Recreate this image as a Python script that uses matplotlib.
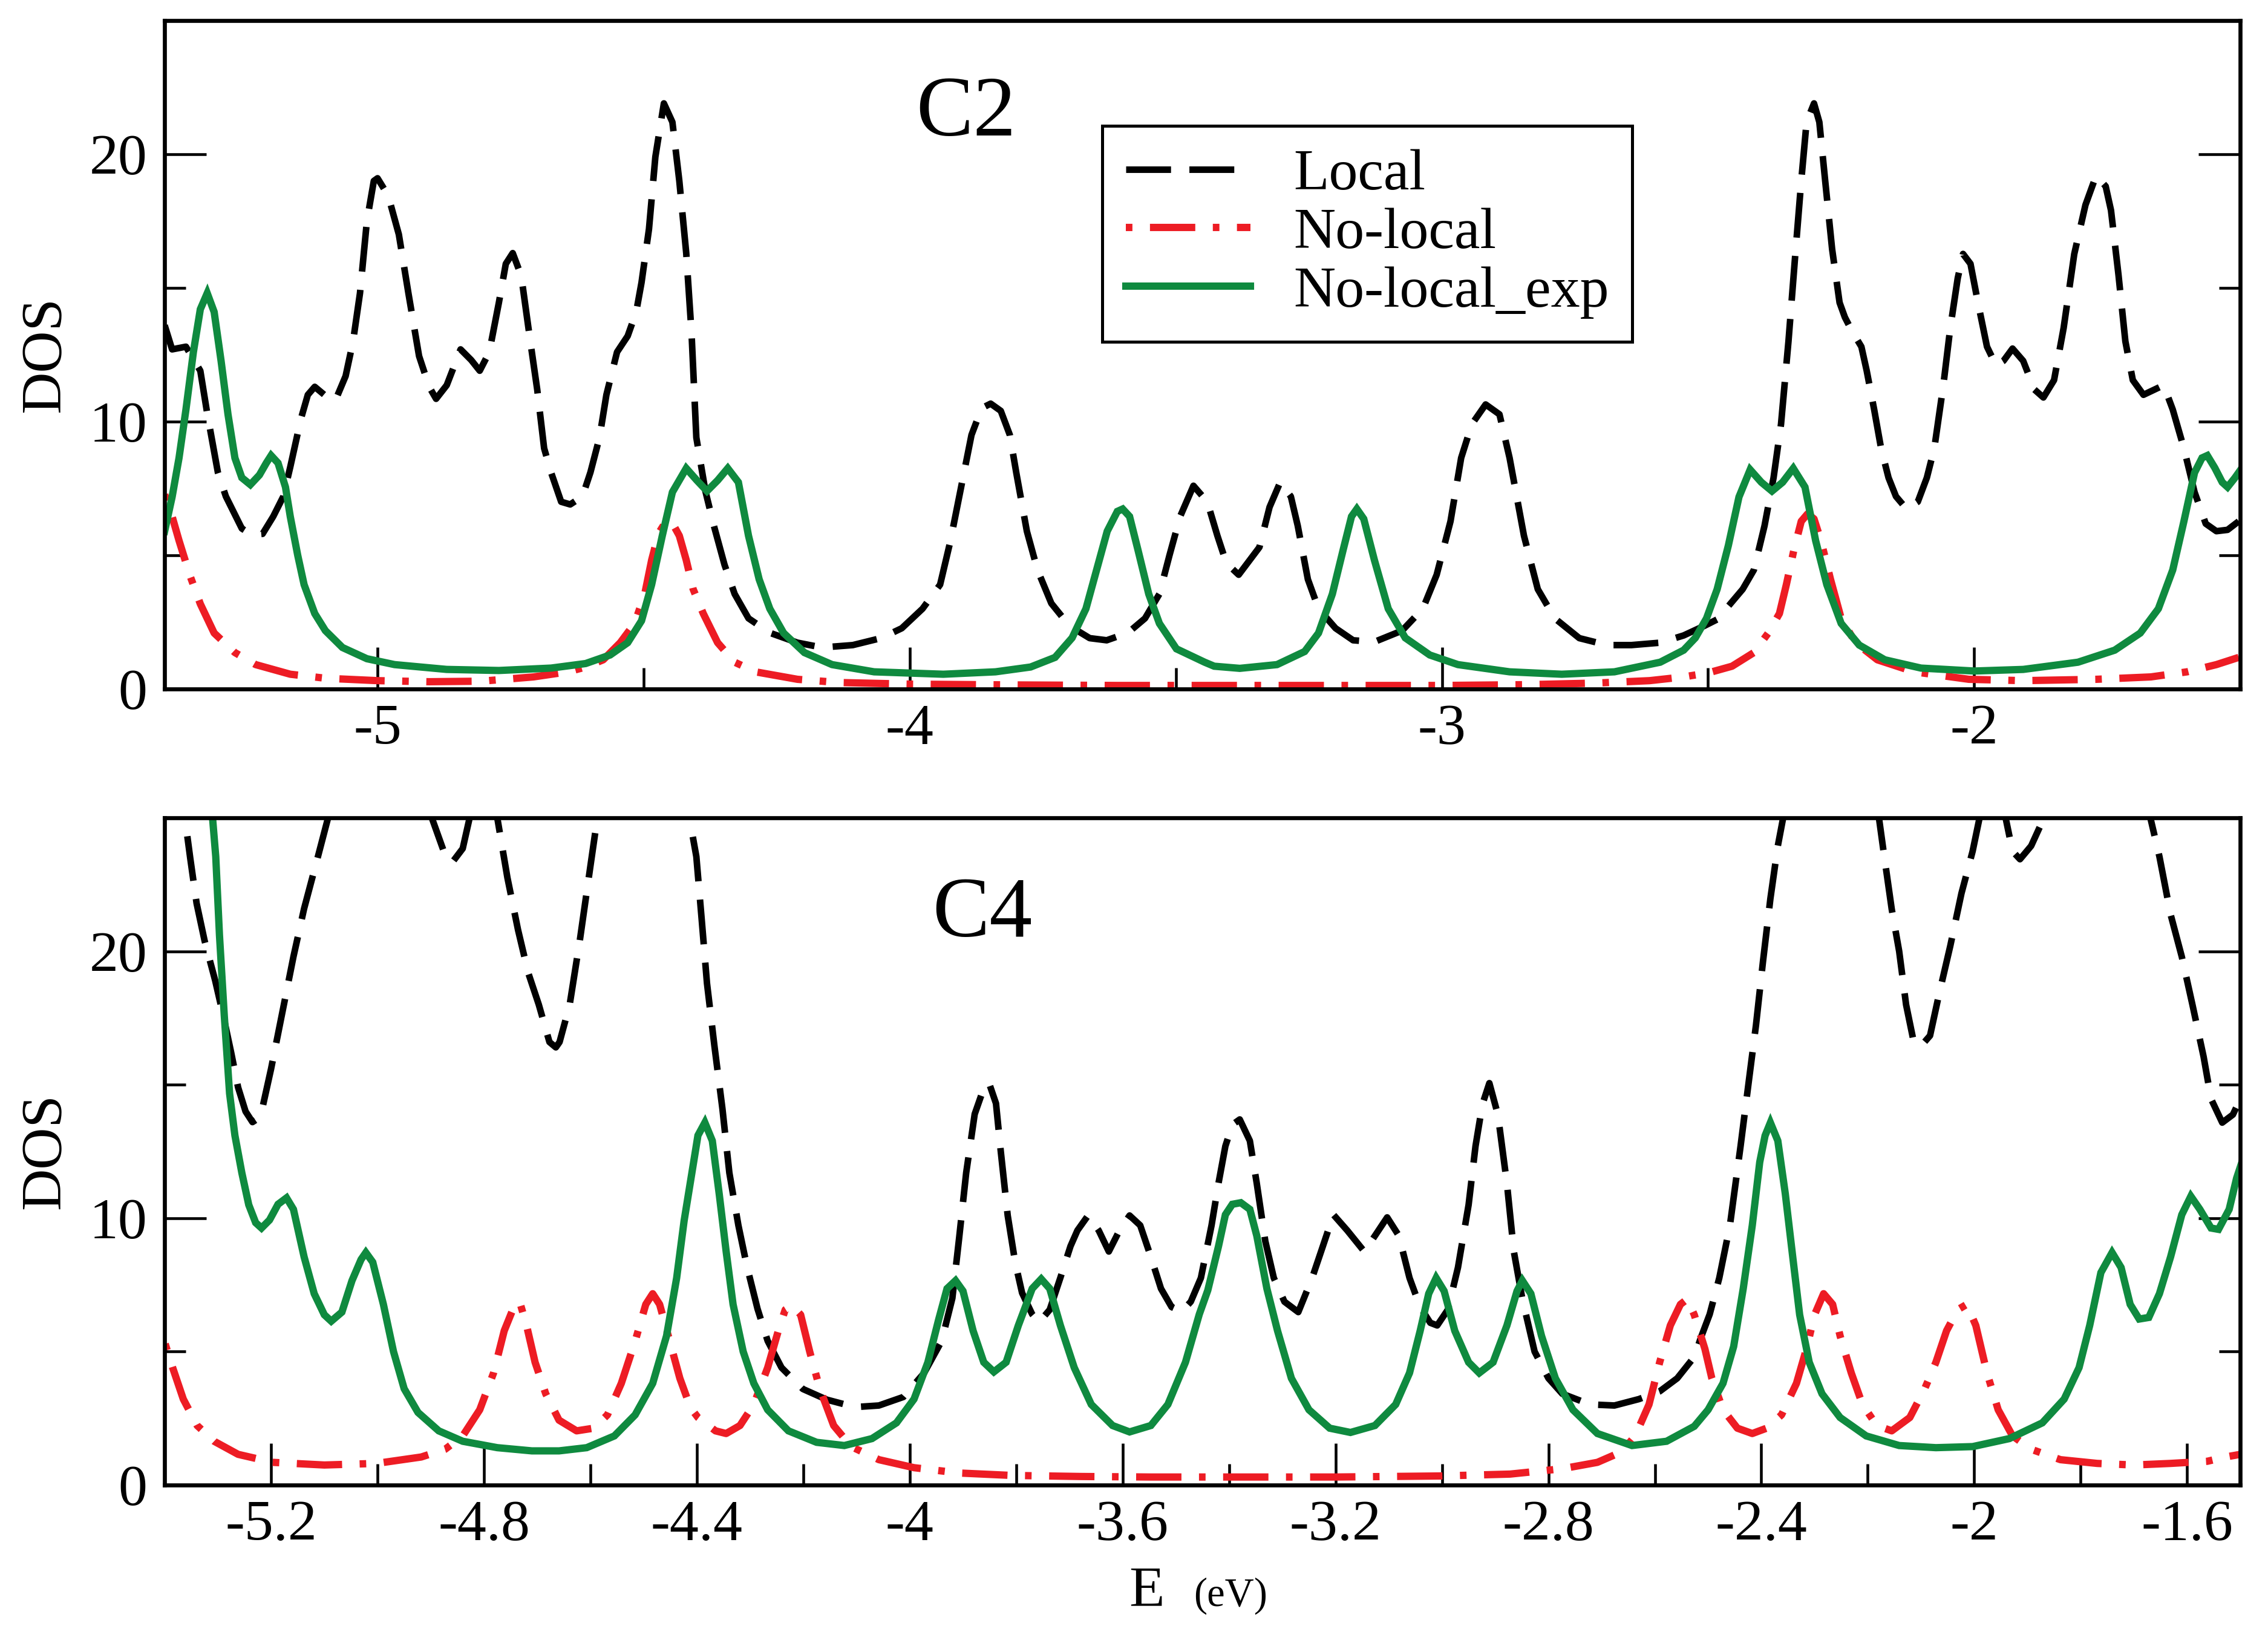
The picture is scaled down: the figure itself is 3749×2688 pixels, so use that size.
import numpy as np
import matplotlib.pyplot as plt
from matplotlib.ticker import MultipleLocator, FuncFormatter

plt.rcParams['font.family'] = ['Liberation Serif', 'DejaVu Serif']
plt.rcParams['axes.unicode_minus'] = False

# ---------------- C2 panel (top) ----------------
c2_local_x = [-5.400, -5.386, -5.360, -5.333, -5.320, -5.300, -5.285, -5.255, -5.236, -5.216,
              -5.196, -5.177, -5.164, -5.144, -5.131, -5.118, -5.100, -5.079, -5.060, -5.046,
              -5.033, -5.020, -5.007, -5.000, -4.980, -4.960, -4.942, -4.922, -4.903, -4.890,
              -4.870, -4.844, -4.824, -4.808, -4.790, -4.772, -4.759, -4.746, -4.730, -4.713,
              -4.700, -4.687, -4.674, -4.655, -4.638, -4.615, -4.600, -4.583, -4.570, -4.550,
              -4.530, -4.514, -4.504, -4.490, -4.478, -4.462, -4.446, -4.433, -4.420, -4.410,
              -4.401, -4.384, -4.368, -4.348, -4.329, -4.303, -4.263, -4.211, -4.165, -4.107,
              -4.054, -4.015, -3.976, -3.943, -3.924, -3.904, -3.884, -3.865, -3.848, -3.829,
              -3.812, -3.800, -3.780, -3.760, -3.734, -3.700, -3.662, -3.630, -3.590, -3.558,
              -3.531, -3.512, -3.492, -3.467, -3.441, -3.422, -3.405, -3.382, -3.343, -3.324,
              -3.304, -3.284, -3.271, -3.252, -3.232, -3.200, -3.167, -3.127, -3.075, -3.036,
              -3.010, -2.984, -2.964, -2.944, -2.918, -2.892, -2.873, -2.846, -2.820, -2.788,
              -2.742, -2.690, -2.644, -2.590, -2.546, -2.507, -2.483, -2.435, -2.414, -2.394,
              -2.377, -2.363, -2.349, -2.336, -2.325, -2.315, -2.301, -2.291, -2.280, -2.267,
              -2.253, -2.243, -2.229, -2.212, -2.202, -2.188, -2.175, -2.161, -2.147, -2.127,
              -2.106, -2.089, -2.075, -2.058, -2.045, -2.031, -2.021, -2.007, -1.993, -1.976,
              -1.959, -1.945, -1.928, -1.908, -1.887, -1.870, -1.850, -1.832, -1.812, -1.791,
              -1.771, -1.753, -1.743, -1.729, -1.716, -1.702, -1.682, -1.661, -1.644, -1.627,
              -1.606, -1.586, -1.565, -1.545, -1.524, -1.503]
c2_local_y = [13.6, 12.7, 12.8, 11.9, 10.3, 8.1, 7.2, 6.0, 5.76, 5.8,
              6.45, 7.2, 8.3, 10.1, 11.0, 11.3, 11.0, 10.8, 11.7, 13.0,
              14.8, 17.5, 19.0, 19.1, 18.45, 17.0, 14.8, 12.45, 11.3, 10.85,
              11.36, 12.7, 12.3, 11.9, 12.6, 14.45, 15.9, 16.3, 15.45, 13.0,
              11.2, 9.0, 8.1, 7.0, 6.9, 7.2, 8.1, 9.4, 11.0, 12.6,
              13.2, 14.1, 15.2, 17.2, 19.9, 21.9, 21.2, 19.0, 16.3, 13.3,
              9.4, 7.4, 6.1, 4.64, 3.55, 2.64, 2.1, 1.73, 1.55, 1.64,
              1.9, 2.27, 3.0, 3.9, 5.5, 7.5, 9.5, 10.5, 10.67, 10.4,
              9.5, 8.1, 5.9, 4.45, 3.2, 2.36, 1.9, 1.82, 2.1, 2.64,
              3.55, 5.0, 6.45, 7.6, 7.0, 5.73, 4.7, 4.27, 5.3, 6.8,
              7.73, 7.2, 6.1, 4.1, 3.0, 2.27, 1.82, 1.76, 2.18, 3.0,
              4.27, 6.27, 8.64, 9.9, 10.64, 10.27, 8.64, 5.73, 3.73, 2.64,
              1.9, 1.64, 1.64, 1.73, 2.0, 2.36, 2.6, 3.73, 4.45, 6.1,
              7.9, 9.9, 13.0, 16.3, 19.0, 21.2, 21.9, 21.2, 19.0, 16.45,
              14.45, 13.9, 13.36, 12.8, 11.9, 10.45, 9.0, 7.9, 7.2, 6.73,
              7.0, 7.9, 9.0, 11.36, 13.5, 15.36, 16.27, 15.9, 14.45, 12.8,
              12.1, 12.27, 12.73, 12.27, 11.2, 10.9, 11.55, 13.5, 16.27, 18.1,
              19.2, 18.8, 17.9, 15.5, 13.0, 11.55, 11.0, 11.2, 11.36, 10.45,
              9.0, 7.36, 6.18, 5.9, 5.95, 6.27]

c2_nonlocal_x = [-5.400, -5.386, -5.373, -5.353, -5.333, -5.307, -5.268, -5.229, -5.164, -5.098,
                 -5.000, -4.903, -4.805, -4.707, -4.642, -4.609, -4.576, -4.544, -4.517, -4.498,
                 -4.485, -4.472, -4.457, -4.446, -4.433, -4.420, -4.407, -4.388, -4.361, -4.329,
                 -4.290, -4.211, -4.133, -4.000, -3.806, -3.610, -3.400, -3.232, -3.000, -2.840,
                 -2.710, -2.610, -2.546, -2.500, -2.455, -2.414, -2.387, -2.366, -2.353, -2.339,
                 -2.325, -2.313, -2.301, -2.288, -2.270, -2.250, -2.223, -2.182, -2.113, -2.010,
                 -1.908, -1.771, -1.668, -1.600, -1.545, -1.503]
c2_nonlocal_y = [7.27, 6.45, 5.55, 4.27, 3.18, 2.09, 1.36, 0.91, 0.55, 0.4,
                 0.31, 0.27, 0.29, 0.45, 0.64, 0.82, 1.09, 1.73, 2.45, 3.55,
                 4.82, 5.82, 6.3, 6.2, 5.73, 4.82, 3.73, 2.82, 1.73, 1.0,
                 0.64, 0.36, 0.24, 0.18, 0.15, 0.13, 0.13, 0.13, 0.13, 0.16,
                 0.22, 0.31, 0.45, 0.6, 0.85, 1.36, 2.09, 2.82, 3.9, 5.18,
                 6.27, 6.55, 6.36, 5.55, 4.1, 2.64, 1.73, 1.09, 0.64, 0.36,
                 0.31, 0.36, 0.45, 0.64, 0.91, 1.18]

c2_exp_x = [-5.400, -5.386, -5.373, -5.360, -5.346, -5.333, -5.320, -5.307, -5.294, -5.281,
            -5.268, -5.255, -5.239, -5.222, -5.209, -5.200, -5.187, -5.173, -5.164, -5.150,
            -5.138, -5.118, -5.098, -5.066, -5.020, -4.968, -4.870, -4.772, -4.674, -4.609,
            -4.563, -4.530, -4.504, -4.485, -4.465, -4.446, -4.420, -4.400, -4.381, -4.361,
            -4.342, -4.322, -4.303, -4.283, -4.263, -4.237, -4.198, -4.146, -4.067, -3.937,
            -3.839, -3.773, -3.727, -3.695, -3.669, -3.649, -3.629, -3.610, -3.600, -3.587,
            -3.571, -3.551, -3.531, -3.499, -3.446, -3.428, -3.380, -3.310, -3.258, -3.232,
            -3.206, -3.186, -3.170, -3.160, -3.147, -3.127, -3.101, -3.069, -3.023, -2.970,
            -2.873, -2.775, -2.676, -2.590, -2.546, -2.524, -2.503, -2.483, -2.462, -2.442,
            -2.421, -2.400, -2.380, -2.360, -2.340, -2.318, -2.298, -2.277, -2.250, -2.216,
            -2.168, -2.100, -2.000, -1.908, -1.805, -1.736, -1.688, -1.654, -1.627, -1.606,
            -1.586, -1.572, -1.562, -1.548, -1.534, -1.524, -1.510, -1.500]
c2_exp_y = [5.9, 7.18, 8.64, 10.45, 12.6, 14.2, 14.8, 14.1, 12.27, 10.27,
            8.64, 7.9, 7.64, 8.0, 8.45, 8.73, 8.45, 7.55, 6.45, 5.0,
            3.9, 2.82, 2.18, 1.55, 1.13, 0.91, 0.73, 0.69, 0.78, 0.95,
            1.27, 1.73, 2.55, 3.9, 5.73, 7.36, 8.25, 7.8, 7.4, 7.8,
            8.25, 7.73, 5.73, 4.1, 3.0, 2.09, 1.36, 0.91, 0.64, 0.55,
            0.64, 0.82, 1.18, 1.91, 3.0, 4.45, 5.9, 6.64, 6.73, 6.45,
            5.18, 3.55, 2.45, 1.5, 1.0, 0.85, 0.77, 0.91, 1.4, 2.09,
            3.55, 5.18, 6.45, 6.73, 6.36, 4.82, 3.0, 1.91, 1.27, 0.91,
            0.64, 0.55, 0.64, 1.0, 1.45, 1.91, 2.64, 3.73, 5.36, 7.18,
            8.2, 7.73, 7.4, 7.73, 8.25, 7.55, 5.55, 3.9, 2.45, 1.64,
            1.09, 0.78, 0.67, 0.73, 1.0, 1.45, 2.09, 3.0, 4.45, 6.27,
            8.09, 8.64, 8.73, 8.27, 7.73, 7.55, 7.9, 8.18]

# ---------------- C4 panel (bottom) ----------------
# values above 25 are rough guesses, they fall outside the frame
c4_local_x = [-5.392, -5.362, -5.352, -5.340, -5.325, -5.305, -5.290, -5.275, -5.262, -5.248,
              -5.235, -5.220, -5.200, -5.180, -5.158, -5.138, -5.112, -5.093, -5.000, -4.898,
              -4.872, -4.859, -4.840, -4.827, -4.800, -4.775, -4.756, -4.736, -4.717, -4.697,
              -4.677, -4.665, -4.658, -4.639, -4.620, -4.600, -4.587, -4.500, -4.414, -4.401,
              -4.391, -4.381, -4.367, -4.352, -4.339, -4.322, -4.306, -4.286, -4.267, -4.241,
              -4.201, -4.156, -4.103, -4.058, -4.012, -3.973, -3.940, -3.920, -3.907, -3.894,
              -3.878, -3.861, -3.851, -3.838, -3.829, -3.816, -3.802, -3.789, -3.770, -3.757,
              -3.737, -3.717, -3.698, -3.685, -3.665, -3.645, -3.626, -3.606, -3.587, -3.567,
              -3.547, -3.528, -3.508, -3.489, -3.472, -3.453, -3.433, -3.420, -3.407, -3.394,
              -3.380, -3.361, -3.348, -3.332, -3.316, -3.296, -3.270, -3.244, -3.224, -3.204,
              -3.178, -3.146, -3.126, -3.103, -3.081, -3.061, -3.041, -3.022, -3.009, -2.989,
              -2.970, -2.950, -2.937, -2.924, -2.911, -2.895, -2.878, -2.865, -2.849, -2.826,
              -2.800, -2.774, -2.722, -2.676, -2.630, -2.591, -2.558, -2.526, -2.514, -2.497,
              -2.479, -2.459, -2.439, -2.424, -2.410, -2.397, -2.383, -2.369, -2.359, -2.270,
              -2.179, -2.169, -2.155, -2.141, -2.128, -2.114, -2.100, -2.083, -2.066, -2.045,
              -2.024, -2.003, -1.990, -1.960, -1.941, -1.928, -1.914, -1.893, -1.869, -1.760,
              -1.669, -1.652, -1.631, -1.610, -1.590, -1.569, -1.555, -1.534, -1.514, -1.500]
c4_local_y = [29.0, 25.0, 23.5, 21.8, 20.4, 18.9, 17.6, 16.2, 14.9, 14.0,
              13.6, 13.8, 15.6, 17.6, 19.8, 21.6, 23.55, 25.0, 30.0, 25.0,
              23.55, 23.35, 23.85, 25.0, 27.0, 25.0, 22.76, 20.8, 19.2, 18.0,
              16.6, 16.4, 16.6, 18.0, 20.4, 23.2, 25.0, 40.0, 25.0, 23.55,
              21.2, 18.8, 16.45, 14.1, 11.7, 9.73, 8.2, 6.6, 5.4, 4.4,
              3.6, 3.2, 2.92, 2.98, 3.3, 4.2, 5.4, 7.0, 9.3, 11.7,
              13.9, 14.87, 15.06, 14.3, 12.5, 10.1, 8.35, 7.2, 6.4, 6.1,
              6.57, 7.77, 8.95, 9.54, 10.1, 9.54, 8.75, 9.54, 10.1, 9.73,
              8.55, 7.36, 6.67, 6.5, 6.87, 7.76, 9.73, 11.3, 12.7, 13.5,
              13.7, 12.9, 11.3, 9.14, 7.76, 6.87, 6.48, 7.76, 8.94, 10.13,
              9.54, 8.75, 9.34, 10.03, 9.34, 7.76, 6.67, 6.08, 5.98, 6.57,
              8.15, 10.5, 12.7, 14.27, 15.06, 13.88, 11.3, 8.75, 6.97, 5.0,
              4.0, 3.42, 3.02, 2.98, 3.22, 3.51, 4.0, 4.8, 5.5, 6.4,
              7.76, 9.73, 12.7, 15.06, 17.24, 19.6, 21.97, 23.95, 25.0, 40.0,
              25.0, 23.55, 21.58, 20.0, 18.0, 16.64, 16.45, 16.84, 18.4, 20.2,
              22.17, 23.75, 25.0, 27.0, 25.0, 23.75, 23.45, 23.95, 25.0, 30.0,
              25.0, 23.55, 21.38, 19.8, 18.0, 16.05, 14.47, 13.58, 13.88, 14.47]

c4_nonlocal_x = [-5.399, -5.385, -5.365, -5.339, -5.307, -5.262, -5.197, -5.100, -5.002, -4.918,
                 -4.873, -4.840, -4.808, -4.782, -4.762, -4.746, -4.733, -4.720, -4.704, -4.684,
                 -4.659, -4.626, -4.594, -4.568, -4.542, -4.516, -4.496, -4.483, -4.470, -4.451,
                 -4.432, -4.412, -4.398, -4.365, -4.345, -4.319, -4.293, -4.267, -4.247, -4.234,
                 -4.221, -4.205, -4.188, -4.169, -4.143, -4.110, -4.058, -3.992, -3.907, -3.809,
                 -3.678, -3.547, -3.380, -3.200, -3.002, -2.872, -2.774, -2.708, -2.663, -2.637,
                 -2.611, -2.591, -2.571, -2.552, -2.539, -2.526, -2.506, -2.493, -2.472, -2.445,
                 -2.417, -2.390, -2.362, -2.334, -2.314, -2.300, -2.283, -2.266, -2.252, -2.231,
                 -2.210, -2.183, -2.155, -2.121, -2.093, -2.072, -2.052, -2.031, -2.014, -1.997,
                 -1.976, -1.955, -1.928, -1.893, -1.838, -1.769, -1.700, -1.631, -1.562, -1.528,
                 -1.500]
c4_nonlocal_y = [5.29, 4.4, 3.22, 2.23, 1.64, 1.15, 0.85, 0.75, 0.81, 1.05,
                 1.34, 1.84, 2.82, 4.2, 5.78, 6.57, 6.87, 5.98, 4.6, 3.42,
                 2.43, 2.03, 2.13, 2.63, 3.81, 5.39, 6.77, 7.17, 6.77, 5.39,
                 4.0, 2.9, 2.53, 2.03, 1.93, 2.23, 3.02, 4.4, 5.78, 6.57,
                 6.73, 6.38, 5.0, 3.61, 2.23, 1.44, 0.95, 0.65, 0.45, 0.36,
                 0.32, 0.3, 0.3, 0.3, 0.34, 0.41, 0.61, 0.85, 1.24, 1.84,
                 3.02, 4.6, 5.98, 6.77, 6.97, 6.38, 5.1, 4.0, 2.82, 2.13,
                 1.93, 2.13, 2.63, 3.81, 5.19, 6.38, 7.17, 6.77, 5.59, 4.2,
                 3.02, 2.23, 2.03, 2.53, 3.61, 4.6, 5.78, 6.57, 6.77, 5.98,
                 4.2, 2.82, 1.84, 1.34, 0.95, 0.81, 0.75, 0.81, 0.89, 1.05,
                 1.15]

c4_exp_x = [-5.340, -5.310, -5.304, -5.297, -5.288, -5.278, -5.268, -5.255, -5.242, -5.229,
            -5.218, -5.203, -5.187, -5.171, -5.158, -5.138, -5.119, -5.100, -5.087, -5.067,
            -5.048, -5.031, -5.022, -5.009, -4.989, -4.970, -4.950, -4.924, -4.885, -4.840,
            -4.775, -4.710, -4.659, -4.607, -4.555, -4.516, -4.483, -4.457, -4.438, -4.424,
            -4.411, -4.398, -4.385, -4.371, -4.358, -4.345, -4.332, -4.313, -4.293, -4.267,
            -4.228, -4.175, -4.123, -4.071, -4.025, -3.992, -3.966, -3.946, -3.930, -3.914,
            -3.900, -3.881, -3.861, -3.842, -3.819, -3.796, -3.770, -3.753, -3.737, -3.717,
            -3.691, -3.659, -3.619, -3.587, -3.547, -3.515, -3.482, -3.456, -3.440, -3.420,
            -3.407, -3.394, -3.378, -3.361, -3.348, -3.329, -3.309, -3.283, -3.250, -3.211,
            -3.172, -3.126, -3.087, -3.061, -3.041, -3.025, -3.011, -2.996, -2.976, -2.950,
            -2.930, -2.904, -2.878, -2.859, -2.849, -2.833, -2.813, -2.787, -2.754, -2.708,
            -2.643, -2.578, -2.526, -2.500, -2.472, -2.452, -2.434, -2.417, -2.403, -2.393,
            -2.383, -2.369, -2.355, -2.341, -2.328, -2.310, -2.286, -2.252, -2.203, -2.141,
            -2.072, -2.003, -1.934, -1.872, -1.831, -1.803, -1.783, -1.762, -1.741, -1.724,
            -1.707, -1.690, -1.672, -1.652, -1.631, -1.610, -1.593, -1.576, -1.555, -1.541,
            -1.521, -1.507, -1.497]
c4_exp_y = [31.0, 25.0, 23.55, 20.6, 17.6, 14.67, 13.1, 11.7, 10.5, 9.83,
            9.63, 9.93, 10.52, 10.76, 10.33, 8.55, 7.17, 6.38, 6.14, 6.48,
            7.66, 8.45, 8.71, 8.35, 6.77, 5.0, 3.61, 2.72, 2.03, 1.64,
            1.4, 1.28, 1.28, 1.4, 1.84, 2.63, 3.81, 5.59, 7.76, 9.9,
            11.5, 13.1, 13.58, 12.9, 10.9, 8.75, 6.77, 5.0, 3.81, 2.82,
            2.03, 1.6, 1.48, 1.74, 2.33, 3.22, 4.6, 6.18, 7.36, 7.66,
            7.27, 5.78, 4.6, 4.24, 4.6, 5.98, 7.36, 7.72, 7.36, 5.98,
            4.4, 3.02, 2.23, 1.99, 2.23, 3.02, 4.6, 6.4, 7.3, 8.94,
            10.13, 10.52, 10.58, 10.33, 9.34, 7.36, 5.78, 4.0, 2.82, 2.13,
            1.97, 2.23, 3.02, 4.2, 5.78, 7.17, 7.76, 7.27, 5.78, 4.6,
            4.2, 4.6, 5.98, 7.27, 7.66, 7.17, 5.59, 4.0, 2.82, 1.93,
            1.48, 1.64, 2.2, 2.82, 3.81, 5.19, 7.36, 9.73, 12.1, 13.09,
            13.58, 12.9, 10.92, 8.55, 6.38, 4.6, 3.42, 2.53, 1.84, 1.48,
            1.4, 1.44, 1.74, 2.33, 3.22, 4.4, 5.98, 7.96, 8.71, 8.15,
            6.77, 6.22, 6.28, 7.17, 8.55, 10.13, 10.82, 10.33, 9.63, 9.58,
            10.33, 11.5, 12.1]

labels = ['Local', 'No-local', 'No-local_exp']
colors = ['black', '#ed1c24', '#0f8a3f']
styles = [(0, (6.85, 2.8)), (8.6, (6.2, 2.4, 0.9, 2.4)), '-']
widths = [2.6, 2.9, 2.9]

fig = plt.figure(figsize=(3749 / 300, 2688 / 300), dpi=300)
ax1 = fig.add_axes([0.0726, 0.5763, 0.9152, 0.4111])
ax2 = fig.add_axes([0.0726, 0.0867, 0.9152, 0.4103])

panels = [
    (ax1, [(c2_local_x, c2_local_y), (c2_nonlocal_x, c2_nonlocal_y), (c2_exp_x, c2_exp_y)]),
    (ax2, [(c4_local_x, c4_local_y), (c4_nonlocal_x, c4_nonlocal_y), (c4_exp_x, c4_exp_y)]),
]

fmt = FuncFormatter(lambda v, p: '%g' % round(v, 3))

for ax, curves in panels:
    for (x, y), lab, c, ls, lw in zip(curves, labels, colors, styles, widths):
        ax.plot(x, y, color=c, linestyle=ls, linewidth=lw, label=lab,
                dash_capstyle='butt', solid_joinstyle='miter')
    ax.set_xlim(-5.4, -1.5)
    ax.set_ylim(0, 25)
    ax.yaxis.set_major_locator(MultipleLocator(10))
    ax.yaxis.set_minor_locator(MultipleLocator(5))
    ax.xaxis.set_major_formatter(fmt)
    ax.yaxis.set_major_formatter(fmt)
    ax.tick_params(which='both', direction='in', top=False, right=True, width=1.1,
                   labelsize=23, pad=7)
    ax.tick_params(which='major', length=16.5)
    ax.tick_params(which='minor', length=8.5)
    ax.tick_params(axis='x', pad=6)
    for s in ax.spines.values():
        s.set_linewidth(1.6)
    ax.text(-0.057, 0.5, 'DOS', rotation=90, ha='center', va='center',
            fontsize=23, transform=ax.transAxes)

ax1.xaxis.set_major_locator(MultipleLocator(1))
ax1.xaxis.set_minor_locator(MultipleLocator(0.5))
ax2.xaxis.set_major_locator(MultipleLocator(0.4))
ax2.xaxis.set_minor_locator(MultipleLocator(0.2))

ax1.text(0.386, 0.828, 'C2', fontsize=34, ha='center', va='baseline', transform=ax1.transAxes)
ax2.text(0.394, 0.822, 'C4', fontsize=34, ha='center', va='baseline', transform=ax2.transAxes)

leg = ax1.legend(loc='upper left', bbox_to_anchor=(0.4518, 0.8425), borderaxespad=0,
                 fontsize=23, frameon=True, fancybox=False, framealpha=1,
                 edgecolor='black', handlelength=2.15, handletextpad=0.75,
                 borderpad=0.4, labelspacing=0.1)
leg.get_frame().set_linewidth(1.2)

fig.text(0.4977, 0.0123, 'E', fontsize=23, ha='left', va='baseline')
fig.text(0.5263, 0.0123, '(eV)', fontsize=16, ha='left', va='baseline')

fig.savefig('out.png', dpi=300)
